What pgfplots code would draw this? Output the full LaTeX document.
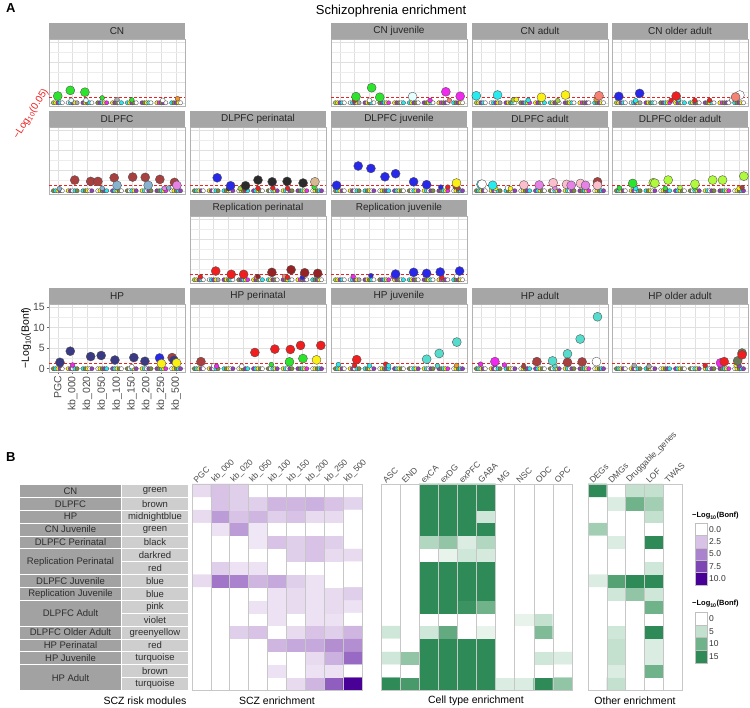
\documentclass[border=0pt]{standalone}
\usepackage{pgfplots}
\pgfplotsset{compat=1.18}
\usepackage{pgfplotstable}
\usepackage{fontspec}
\setmainfont{Liberation Sans}

\definecolor{cg}{RGB}{45,228,45}
\definecolor{cbr}{RGB}{168,64,64}
\definecolor{cmb}{RGB}{58,58,132}
\definecolor{cbl}{RGB}{40,40,235}
\definecolor{cbk}{RGB}{42,42,42}
\definecolor{cr}{RGB}{240,30,30}
\definecolor{cdr}{RGB}{150,35,35}
\definecolor{cpk}{RGB}{250,190,205}
\definecolor{cv}{RGB}{230,130,230}
\definecolor{cgy}{RGB}{175,250,60}
\definecolor{ctq}{RGB}{85,220,205}
\definecolor{cy}{RGB}{250,240,20}
\definecolor{cm}{RGB}{240,40,240}
\definecolor{cc}{RGB}{40,235,240}
\definecolor{clc}{RGB}{228,255,255}
\definecolor{csa}{RGB}{245,130,115}
\definecolor{ctn}{RGB}{215,185,145}
\definecolor{clb}{RGB}{135,178,208}
\definecolor{col}{RGB}{125,140,60}
\definecolor{cpu}{RGB}{150,60,190}
\definecolor{cgr}{RGB}{170,170,170}
\definecolor{cor}{RGB}{245,150,40}
\definecolor{cyg}{RGB}{165,205,60}
\definecolor{cdg}{RGB}{105,120,85}
\definecolor{stripgray}{RGB}{166,166,166}
\definecolor{tabdark}{RGB}{162,162,162}
\definecolor{tablight}{RGB}{206,206,206}
\definecolor{pl0}{RGB}{255,255,255}
\definecolor{pl1}{RGB}{216,195,230}
\definecolor{pl2}{RGB}{170,130,205}
\definecolor{pl3}{RGB}{125,70,180}
\definecolor{pl4}{RGB}{72,0,150}
\definecolor{gl0}{RGB}{255,255,255}
\definecolor{gl1}{RGB}{195,225,206}
\definecolor{gl2}{RGB}{112,178,138}
\definecolor{gl3}{RGB}{46,139,87}

\tikzset{mk/.style={draw=black!70, line width=0.35pt}}
\pgfplotsset{
  colormap={purp}{rgb255=(255,255,255) rgb255=(216,195,230) rgb255=(170,130,205) rgb255=(125,70,180) rgb255=(72,0,150)},
  colormap={grn}{rgb255=(255,255,255) rgb255=(195,225,206) rgb255=(112,178,138) rgb255=(46,139,87)},
  pts/.style={scatter, only marks, mark=*, point meta=explicit symbolic,
    scatter/classes={
      g={mk,fill=cg}, br={mk,fill=cbr}, mb={mk,fill=cmb}, bl={mk,fill=cbl}, bk={mk,fill=cbk},
      r={mk,fill=cr}, dr={mk,fill=cdr}, pk={mk,fill=cpk}, v={mk,fill=cv}, gy={mk,fill=cgy},
      tq={mk,fill=ctq}, y={mk,fill=cy}, m={mk,fill=cm}, c={mk,fill=cc}, lc={mk,fill=clc},
      sa={mk,fill=csa}, tn={mk,fill=ctn}, lb={mk,fill=clb}, w={mk,fill=white}, ol={mk,fill=col},
      pu={mk,fill=cpu}, gr={mk,fill=cgr}, or={mk,fill=cor}, yg={mk,fill=cyg}, dg={mk,fill=cdg}}},
  big/.style={pts, mark size=4.5pt},
  sml/.style={pts, mark size=2.4pt},
  zer/.style={pts, mark size=2.1pt},
  thr/.style={cr, line width=0.6pt, dash pattern=on 3pt off 2pt},
  pA/.style={scale only axis, width=136pt, height=67pt, anchor=north west,
    xmin=0.4, xmax=9.6, ymin=-0.8, ymax=15.7, clip=false,
    xtick={1,...,9}, ytick={0,5,10,15}, minor ytick={2.5,7.5,12.5},
    xticklabels={}, yticklabels={}, major tick length=0pt, minor tick length=0pt,
    grid=both, major grid style={black!12, line width=0.45pt}, minor grid style={black!7, line width=0.35pt},
    axis line style={black!30, line width=0.5pt},
    /pgf/number format/assume math mode=true},
  hm/.style={scale only axis, anchor=north west, height=206pt, ymin=-0.5, ymax=15.5,
    ytick=\empty, minor ytick={-0.5,0.5,...,15.5},
    xticklabel pos=upper, major tick length=0pt, minor tick length=0pt,
    xminorgrids=true, yminorgrids=true, minor grid style={black!22, line width=0.6pt},
    axis on top, axis line style={black!22, line width=0.6pt},
    xticklabel style={rotate=45, anchor=south west, font=\fontsize{8.5}{10}\selectfont, text=black!70, inner sep=1pt, xshift=-4pt, yshift=2pt},
    /pgf/number format/assume math mode=true},
}

\pgfplotstableread{
x y c
0.70 0 yg
0.85 0 y
1.00 0 pu
1.15 0 c
1.30 0 w
1.70 0 w
1.85 0 c
2.00 0 pu
2.15 0 y
2.30 0 gr
2.70 0 pu
2.85 0 y
3.00 0 ol
3.15 0 c
3.30 0 w
3.70 0 ol
3.85 0 pu
4.00 0 c
4.15 0 y
4.30 0 m
4.70 0 y
4.85 0 pu
5.00 0 ol
5.15 0 w
5.30 0 c
5.70 0 c
5.85 0 y
6.00 0 pu
6.15 0 ol
6.30 0 w
6.70 0 pu
6.85 0 ol
7.00 0 y
7.15 0 c
7.30 0 w
7.70 0 y
7.85 0 m
8.00 0 ol
8.15 0 pu
8.30 0 w
8.70 0 c
8.85 0 ol
9.00 0 pu
9.15 0 y
9.30 0 w
}\zA

\pgfplotstableread{
x y c
0.70 0 ol
0.85 0 c
1.00 0 y
1.15 0 pu
1.30 0 w
1.70 0 y
1.85 0 pu
2.00 0 w
2.15 0 c
2.30 0 ol
2.70 0 c
2.85 0 ol
3.00 0 y
3.15 0 w
3.30 0 pu
3.70 0 w
3.85 0 y
4.00 0 ol
4.15 0 pu
4.30 0 c
4.70 0 pu
4.85 0 c
5.00 0 y
5.15 0 ol
5.30 0 w
5.70 0 ol
5.85 0 w
6.00 0 c
6.15 0 y
6.30 0 pu
6.70 0 y
6.85 0 c
7.00 0 w
7.15 0 pu
7.30 0 ol
7.70 0 pu
7.85 0 ol
8.00 0 c
8.15 0 y
8.30 0 m
8.70 0 w
8.85 0 y
9.00 0 ol
9.15 0 c
9.30 0 pu
}\zB

\newcommand{\strip}[3]{\node[fill=stripgray, minimum width=136pt, minimum height=16pt, inner sep=0pt, outer sep=0pt, anchor=south west, font=\fontsize{10}{11}\selectfont, text=black!85] at (#1pt,-#2pt) {#3};}

\begin{document}
\begin{tikzpicture}[font=\fontsize{10}{12}\selectfont]
\path[use as bounding box] (0pt,0pt) rectangle (750pt,-708pt);
\node[anchor=north west, font=\bfseries\fontsize{13}{14}\selectfont, inner sep=0pt] at (6pt,-3pt) {A};
\node[font=\fontsize{13}{15}\selectfont] at (391pt,-11pt) {Schizophrenia enrichment};
\node[rotate=58, text=cr, font=\fontsize{10}{12}\selectfont] at (31pt,-114pt) {−Log\textsubscript{10}(0.05)};

% ---------- Row 1 ----------
\begin{axis}[pA, at={(49pt,-39pt)}]
\addplot[thr] coordinates {(0.4,1.3) (9.6,1.3)};
\addplot[zer] table[meta=c]{\zA};
\addplot[sml] table[meta=c,row sep=\\]{x y c\\ 1.9 0.6 lc\\ 2.9 0.6 lc\\ 4.0 1.2 g\\ 5.0 0.8 gr\\ 6.0 0.7 g\\ 8.1 0.6 w\\ 9.1 1.0 or\\};
\addplot[big] table[meta=c,row sep=\\]{x y c\\ 0.99 1.65 g\\ 1.84 3.05 g\\ 2.83 2.6 g\\};
\end{axis}
\strip{49}{39}{CN}

\begin{axis}[pA, at={(331pt,-39pt)}]
\addplot[thr] coordinates {(0.4,1.3) (9.6,1.3)};
\addplot[zer] table[meta=c]{\zA};
\addplot[sml] table[meta=c,row sep=\\]{x y c\\ 2.0 0.6 r\\ 3.0 0.6 w\\ 7.1 0.6 m\\ 8.4 0.6 sa\\};
\addplot[big] table[meta=c,row sep=\\]{x y c\\ 2.09 1.5 g\\ 3.15 3.7 g\\ 3.7 1.35 g\\ 5.92 1.5 lc\\ 8.17 2.7 m\\ 9.14 1.6 m\\};
\end{axis}
\strip{331}{39}{CN juvenile}

\begin{axis}[pA, at={(472pt,-39pt)}]
\addplot[thr] coordinates {(0.4,1.3) (9.6,1.3)};
\addplot[zer] table[meta=c]{\zA};
\addplot[sml] table[meta=c,row sep=\\]{x y c\\ 3.2 0.7 yg\\ 3.4 0.8 y\\ 4.2 0.6 c\\ 6.2 0.5 yg\\ 8.8 0.8 or\\};
\addplot[big] table[meta=c,row sep=\\]{x y c\\ 0.69 1.72 c\\ 2.13 1.9 c\\ 5.1 1.33 y\\ 6.72 1.9 y\\ 8.99 1.72 sa\\};
\end{axis}
\strip{472}{39}{CN adult}

\begin{axis}[pA, at={(612pt,-39pt)}]
\addplot[thr] coordinates {(0.4,1.3) (9.6,1.3)};
\addplot[zer] table[meta=c]{\zA};
\addplot[sml] table[meta=c,row sep=\\]{x y c\\ 2.0 0.5 c\\ 4.4 0.6 r\\ 4.9 0.8 c\\ 6.0 0.6 r\\ 7.0 0.6 r\\ 8.5 0.7 w\\};
\addplot[big] table[meta=c,row sep=\\]{x y c\\ 0.86 1.57 bl\\ 2.27 2.3 bl\\ 4.74 1.65 r\\ 9.05 1.9 w\\ 8.76 1.4 sa\\};
\end{axis}
\strip{612}{39}{CN older adult}

% ---------- Row 2 ----------
\begin{axis}[pA, at={(49pt,-127pt)}]
\addplot[thr] coordinates {(0.4,1.3) (9.6,1.3)};
\addplot[zer] table[meta=c]{\zB};
\addplot[sml] table[meta=c,row sep=\\]{x y c\\ 1.1 0.5 lb\\ 4.0 0.6 lb\\ 5.0 0.7 lb\\ 8.2 0.6 v\\ 8.5 0.7 lb\\};
\addplot[big] table[meta=c,row sep=\\]{x y c\\ 2.14 2.63 br\\ 3.22 2.3 br\\ 3.71 2.3 br\\ 4.81 3.2 br\\ 6.06 3.37 br\\ 6.91 3.3 br\\ 7.9 2.8 br\\ 8.89 2.06 br\\ 5.0 1.33 lb\\ 7.11 1.33 lb\\ 9.05 1.33 v\\};
\end{axis}
\strip{49}{127}{DLPFC}

\begin{axis}[pA, at={(190pt,-127pt)}]
\addplot[thr] coordinates {(0.4,1.3) (9.6,1.3)};
\addplot[zer] table[meta=c]{\zB};
\addplot[sml] table[meta=c,row sep=\\]{x y c\\ 3.0 0.5 bk\\ 3.8 0.6 yg\\ 4.1 0.5 r\\ 5.0 0.6 r\\ 6.0 0.7 r\\ 7.0 0.6 r\\ 8.8 0.9 g\\};
\addplot[big] table[meta=c,row sep=\\]{x y c\\ 2.24 3.2 bl\\ 3.15 1.23 bl\\ 4.16 1.23 bk\\ 5.0 2.63 bk\\ 5.96 2.2 bk\\ 6.97 2.3 bk\\ 8.05 1.9 bk\\ 8.85 2.2 tn\\};
\end{axis}
\strip{190}{127}{DLPFC perinatal}

\begin{axis}[pA, at={(331pt,-127pt)}]
\addplot[thr] coordinates {(0.4,1.3) (9.6,1.3)};
\addplot[zer] table[meta=c]{\zB};
\addplot[sml] table[meta=c,row sep=\\]{x y c\\ 7.83 0.9 bl\\ 8.3 0.9 r\\ 8.8 1.0 br\\ 9.0 0.6 br\\};
\addplot[big] table[meta=c,row sep=\\]{x y c\\ 0.78 1.33 bl\\ 2.24 6.1 bl\\ 3.1 5.5 bl\\ 4.05 3.44 bl\\ 4.77 4.2 bl\\ 5.99 2.2 bl\\ 6.87 1.5 bl\\ 8.89 1.9 y\\};
\end{axis}
\strip{331}{127}{DLPFC juvenile}

\begin{axis}[pA, at={(472pt,-127pt)}]
\addplot[thr] coordinates {(0.4,1.3) (9.6,1.3)};
\addplot[zer] table[meta=c]{\zB};
\addplot[sml] table[meta=c,row sep=\\]{x y c\\ 2.0 0.6 y\\ 2.8 0.7 w\\ 3.0 0.5 y\\ 6.0 0.7 v\\};
\addplot[big] table[meta=c,row sep=\\]{x y c\\ 1.01 1.57 c\\ 1.08 1.62 w\\ 1.8 1.33 c\\ 3.91 1.4 pk\\ 4.95 1.4 v\\ 5.89 1.97 pk\\ 6.8 1.57 pk\\ 7.11 1.33 v\\ 7.74 1.8 pk\\ 8.08 1.33 v\\ 8.89 2.2 br\\ 8.89 1.33 pk\\};
\end{axis}
\strip{472}{127}{DLPFC adult}

\begin{axis}[pA, at={(612pt,-127pt)}]
\addplot[thr] coordinates {(0.4,1.3) (9.6,1.3)};
\addplot[zer] table[meta=c]{\zB};
\addplot[sml] table[meta=c,row sep=\\]{x y c\\ 0.9 0.7 g\\ 2.0 0.6 c\\ 4.0 0.6 g\\ 5.0 0.8 gy\\ 6.0 0.7 g\\ 9.0 0.6 y\\ 9.2 0.8 br\\};
\addplot[big] table[meta=c,row sep=\\]{x y c\\ 1.8 1.8 g\\ 3.19 1.97 gy\\ 3.3 1.85 gy\\ 4.2 2.63 gy\\ 6.01 1.65 gy\\ 7.21 2.63 gy\\ 7.88 2.63 gy\\ 9.32 3.6 gy\\};
\end{axis}
\strip{612}{127}{DLPFC older adult}

% ---------- Row 3 ----------
\begin{axis}[pA, at={(190pt,-216pt)}]
\addplot[thr] coordinates {(0.4,1.3) (9.6,1.3)};
\addplot[zer] table[meta=c]{\zA};
\addplot[sml] table[meta=c,row sep=\\]{x y c\\ 1.1 0.7 r\\ 4.9 0.6 sa\\ 5.0 0.8 dr\\ 6.8 0.8 sa\\ 7.0 0.6 r\\ 8.0 0.6 bl\\ 9.0 0.8 c\\};
\addplot[big] table[meta=c,row sep=\\]{x y c\\ 2.14 2.14 r\\ 3.19 1.33 r\\ 4.03 1.33 r\\ 5.94 1.82 dr\\ 7.24 2.46 dr\\ 8.16 1.72 dr\\ 9.04 1.57 dr\\};
\end{axis}
\strip{190}{216}{Replication perinatal}

\begin{axis}[pA, at={(331pt,-216pt)}]
\addplot[thr] coordinates {(0.4,1.3) (9.6,1.3)};
\addplot[zer] table[meta=c]{\zA};
\addplot[sml] table[meta=c,row sep=\\]{x y c\\ 1.9 0.8 m\\ 3.1 1.0 bl\\ 4.6 0.8 m\\ 7.9 0.6 r\\ 8.9 0.9 w\\};
\addplot[big] table[meta=c,row sep=\\]{x y c\\ 4.77 1.4 bl\\ 5.99 1.82 bl\\ 6.87 1.57 bl\\ 7.79 1.9 bl\\ 9.1 2.14 bl\\};
\end{axis}
\strip{331}{216}{Replication juvenile}

% ---------- Row 4 ----------
\begin{axis}[pA, at={(49pt,-304pt)}, height=68pt,
  yticklabels={0,5,10,15},
  xticklabels={PGC,kb\_000,kb\_020,kb\_050,kb\_100,kb\_150,kb\_200,kb\_250,kb\_500},
  major tick length=2.5pt, tick pos=left, tick align=outside, major tick style={black!60, line width=0.5pt},
  xticklabel style={rotate=90, anchor=east, font=\fontsize{10.5}{12}\selectfont, text=black!70, inner sep=1.5pt},
  yticklabel style={font=\fontsize{10.5}{12}\selectfont, text=black!70, inner sep=1.5pt},
  ylabel={−Log\textsubscript{10}(Bonf)}, ylabel style={font=\fontsize{10.5}{12}\selectfont, yshift=-3pt}]
\addplot[thr] coordinates {(0.4,1.3) (9.6,1.3)};
\addplot[zer] table[meta=c]{\zB};
\addplot[sml] table[meta=c,row sep=\\]{x y c\\ 1.15 0.8 pu\\ 2.0 0.9 m\\ 6.0 0.5 w\\ 7.9 1.0 yg\\};
\addplot[big] table[meta=c,row sep=\\]{x y c\\ 1.14 1.55 mb\\ 1.84 4.25 mb\\ 3.22 2.95 mb\\ 3.93 3.2 mb\\ 4.86 2.1 mb\\ 6.14 2.7 mb\\ 6.89 1.8 mb\\ 7.88 2.6 bl\\ 8.01 1.23 y\\ 8.73 2.7 br\\ 8.85 2.05 mb\\ 9.03 1.4 y\\};
\end{axis}
\strip{49}{304}{HP}

\begin{axis}[pA, at={(190pt,-304pt)}, height=68pt]
\addplot[thr] coordinates {(0.4,1.3) (9.6,1.3)};
\addplot[zer] table[meta=c]{\zB};
\addplot[sml] table[meta=c,row sep=\\]{x y c\\ 2.0 0.7 w\\ 2.2 0.6 m\\ 3.9 0.6 w\\ 5.9 1.0 g\\};
\addplot[big] table[meta=c,row sep=\\]{x y c\\ 1.14 1.72 br\\ 4.79 3.93 r\\ 6.14 4.75 r\\ 7.19 4.67 r\\ 7.88 5.65 r\\ 9.25 5.65 r\\ 7.13 1.65 g\\ 8.04 2.46 g\\ 8.96 2.14 y\\};
\end{axis}
\strip{190}{304}{HP perinatal}

\begin{axis}[pA, at={(331pt,-304pt)}, height=68pt]
\addplot[thr] coordinates {(0.4,1.3) (9.6,1.3)};
\addplot[zer] table[meta=c]{\zB};
\addplot[sml] table[meta=c,row sep=\\]{x y c\\ 0.9 1.0 c\\ 2.0 0.8 r\\ 3.0 0.7 c\\ 4.1 1.1 r\\ 4.3 0.7 c\\ 7.6 0.7 tq\\ 8.9 0.8 or\\};
\addplot[big] table[meta=c,row sep=\\]{x y c\\ 2.14 2.2 r\\ 6.87 2.3 tq\\ 7.72 3.7 tq\\ 8.91 6.46 tq\\};
\end{axis}
\strip{331}{304}{HP juvenile}

\begin{axis}[pA, at={(472pt,-304pt)}, height=68pt]
\addplot[thr] coordinates {(0.4,1.3) (9.6,1.3)};
\addplot[zer] table[meta=c]{\zB};
\addplot[sml] table[meta=c,row sep=\\]{x y c\\ 0.98 1.1 m\\ 1.95 1.0 pu\\ 2.6 0.9 m\\ 3.9 0.6 br\\ 6.0 0.7 tq\\};
\addplot[big] table[meta=c,row sep=\\]{x y c\\ 1.95 1.72 m\\ 4.79 1.72 br\\ 5.85 1.89 tq\\ 6.86 3.6 tq\\ 6.86 1.55 br\\ 7.72 7.2 tq\\ 7.85 1.65 br\\ 8.89 12.6 tq\\ 8.82 1.72 w\\};
\end{axis}
\strip{472}{304}{HP adult}

\begin{axis}[pA, at={(612pt,-304pt)}, height=68pt]
\addplot[thr] coordinates {(0.4,1.3) (9.6,1.3)};
\addplot[zer] table[meta=c]{\zB};
\addplot[sml] table[meta=c,row sep=\\]{x y c\\ 1.9 0.8 gr\\ 2.9 0.6 gr\\ 6.7 0.8 r\\ 8.8 0.8 y\\ 9.0 0.7 pu\\};
\addplot[big] table[meta=c,row sep=\\]{x y c\\ 9.2 3.8 dg\\ 7.74 1.4 m\\ 7.99 1.72 r\\ 8.9 1.89 dg\\ 9.2 3.37 r\\};
\end{axis}
\strip{612}{304}{HP older adult}

% ---------- Panel B ----------
\node[anchor=north west, font=\bfseries\fontsize{13}{14}\selectfont, inner sep=0pt] at (6pt,-452pt) {B};

\foreach \a/\b/\t in {0/1/CN,1/1/DLPFC,2/1/HP,3/1/CN Juvenile,4/1/DLPFC Perinatal,5/2/Replication Perinatal,7/1/DLPFC Juvenile,8/1/Replication Juvenile,9/2/DLPFC Adult,11/1/DLPFC Older Adult,12/1/HP Perinatal,13/1/HP Juvenile,14/2/HP Adult}
  \node[fill=tabdark, draw=white, line width=1pt, minimum width=102pt, minimum height=\b*12.875pt, inner sep=0pt, anchor=north west, text=black!82, font=\fontsize{9.5}{11}\selectfont] at (19pt,{-484pt-\a*12.875pt}) {\t};
\foreach \a/\t in {0/green,1/brown,2/midnightblue,3/green,4/black,5/darkred,6/red,7/blue,8/blue,9/pink,10/violet,11/greenyellow,12/red,13/turquoise,14/brown,15/turquoise}
  \node[fill=tablight, draw=white, line width=1pt, minimum width=67pt, minimum height=12.875pt, inner sep=0pt, anchor=north west, text=black!82, font=\fontsize{9.5}{11}\selectfont] at (121pt,{-484pt-\a*12.875pt}) {\t};

\begin{axis}[hm, at={(192pt,-484pt)}, width=170pt, xmin=-0.5, xmax=8.5,
  colormap name=purp, point meta min=0, point meta max=10,
  xtick={0,...,8}, minor xtick={-0.5,0.5,...,8.5},
  xticklabels={PGC,kb\_000,kb\_020,kb\_050,kb\_100,kb\_150,kb\_200,kb\_250,kb\_500}]
\addplot[matrix plot*, mesh/cols=9, point meta=explicit] table[meta=v,row sep=\\]{x y v\\
0 0 0\\ 1 0 0\\ 2 0 0\\ 3 0 0\\ 4 0 0\\ 5 0 1.5\\ 6 0 3\\ 7 0 6.5\\ 8 0 10\\
0 1 0\\ 1 1 0\\ 2 1 0\\ 3 1 0\\ 4 1 1.2\\ 5 1 0\\ 6 1 1.2\\ 7 1 1.2\\ 8 1 0\\
0 2 0\\ 1 2 0\\ 2 2 0\\ 3 2 0\\ 4 2 0\\ 5 2 0\\ 6 2 1.5\\ 7 2 3.2\\ 8 2 6\\
0 3 0\\ 1 3 0\\ 2 3 0\\ 3 3 0\\ 4 3 3\\ 5 3 3.5\\ 6 3 3.5\\ 7 3 4.5\\ 8 3 4.5\\
0 4 0\\ 1 4 0\\ 2 4 2\\ 3 4 2.5\\ 4 4 0\\ 5 4 1.5\\ 6 4 2.5\\ 7 4 2\\ 8 4 3\\
0 5 0\\ 1 5 0\\ 2 5 0\\ 3 5 0\\ 4 5 1.2\\ 5 5 0\\ 6 5 1.2\\ 7 5 1.2\\ 8 5 0\\
0 6 0\\ 1 6 0\\ 2 6 0\\ 3 6 1.2\\ 4 6 1.2\\ 5 6 1.5\\ 6 6 1.2\\ 7 6 1.5\\ 8 6 1.2\\
0 7 0\\ 1 7 0\\ 2 7 0\\ 3 7 0\\ 4 7 1.2\\ 5 7 1.5\\ 6 7 1.2\\ 7 7 1.5\\ 8 7 2\\
0 8 1.5\\ 1 8 5.5\\ 2 8 5\\ 3 8 3\\ 4 8 3.5\\ 5 8 2\\ 6 8 1.2\\ 7 8 0\\ 8 8 0\\
0 9 0\\ 1 9 2\\ 2 9 1.2\\ 3 9 1.2\\ 4 9 0\\ 5 9 0\\ 6 9 0\\ 7 9 0\\ 8 9 0\\
0 10 0\\ 1 10 0\\ 2 10 0\\ 3 10 0\\ 4 10 0\\ 5 10 2\\ 6 10 2.5\\ 7 10 1.5\\ 8 10 1.5\\
0 11 0\\ 1 11 0\\ 2 11 0\\ 3 11 1\\ 4 11 2.5\\ 5 11 2\\ 6 11 2.5\\ 7 11 2\\ 8 11 0\\
0 12 0\\ 1 12 1.2\\ 2 12 4\\ 3 12 1\\ 4 12 0\\ 5 12 0\\ 6 12 0\\ 7 12 0\\ 8 12 0\\
0 13 1.5\\ 1 13 4\\ 2 13 2.5\\ 3 13 3\\ 4 13 2\\ 5 13 2.5\\ 6 13 1.5\\ 7 13 1.5\\ 8 13 0\\
0 14 0\\ 1 14 2.5\\ 2 14 2\\ 3 14 2\\ 4 14 3\\ 5 14 3\\ 6 14 3.2\\ 7 14 2.5\\ 8 14 1.8\\
0 15 1.5\\ 1 15 2.5\\ 2 15 2\\ 3 15 0\\ 4 15 0\\ 5 15 0\\ 6 15 0\\ 7 15 0\\ 8 15 0\\
};
\end{axis}

\begin{axis}[hm, at={(381pt,-484pt)}, width=191pt, xmin=-0.5, xmax=9.5,
  colormap name=grn, point meta min=0, point meta max=15,
  xtick={0,...,9}, minor xtick={-0.5,0.5,...,9.5},
  xticklabels={ASC,END,exCA,exDG,exPFC,GABA,MG,NSC,ODC,OPC}]
\addplot[matrix plot*, mesh/cols=10, point meta=explicit] table[meta=v,row sep=\\]{x y v\\
0 0 15\\ 1 0 13\\ 2 0 15\\ 3 0 15\\ 4 0 15\\ 5 0 15\\ 6 0 3\\ 7 0 3\\ 8 0 15\\ 9 0 8\\
0 1 0\\ 1 1 0\\ 2 1 15\\ 3 1 15\\ 4 1 15\\ 5 1 15\\ 6 1 0\\ 7 1 0\\ 8 1 0\\ 9 1 0\\
0 2 4\\ 1 2 8\\ 2 2 15\\ 3 2 15\\ 4 2 15\\ 5 2 15\\ 6 2 0\\ 7 2 0\\ 8 2 4\\ 9 2 3\\
0 3 0\\ 1 3 0\\ 2 3 15\\ 3 3 15\\ 4 3 15\\ 5 3 15\\ 6 3 0\\ 7 3 0\\ 8 3 0\\ 9 3 0\\
0 4 4\\ 1 4 0\\ 2 4 4\\ 3 4 11\\ 4 4 0\\ 5 4 2\\ 6 4 0\\ 7 4 0\\ 8 4 9\\ 9 4 0\\
0 5 0\\ 1 5 0\\ 2 5 0\\ 3 5 0\\ 4 5 0\\ 5 5 0\\ 6 5 0\\ 7 5 2\\ 8 5 5\\ 9 5 0\\
0 6 0\\ 1 6 0\\ 2 6 15\\ 3 6 15\\ 4 6 14\\ 5 6 10\\ 6 6 0\\ 7 6 0\\ 8 6 0\\ 9 6 0\\
0 7 0\\ 1 7 0\\ 2 7 15\\ 3 7 15\\ 4 7 15\\ 5 7 15\\ 6 7 0\\ 7 7 0\\ 8 7 0\\ 9 7 0\\
0 8 0\\ 1 8 0\\ 2 8 15\\ 3 8 15\\ 4 8 15\\ 5 8 15\\ 6 8 0\\ 7 8 0\\ 8 8 0\\ 9 8 0\\
0 9 0\\ 1 9 0\\ 2 9 15\\ 3 9 15\\ 4 9 15\\ 5 9 15\\ 6 9 0\\ 7 9 0\\ 8 9 0\\ 9 9 0\\
0 10 0\\ 1 10 0\\ 2 10 0\\ 3 10 2\\ 4 10 4\\ 5 10 3.5\\ 6 10 0\\ 7 10 0\\ 8 10 0\\ 9 10 0\\
0 11 0\\ 1 11 0\\ 2 11 6\\ 3 11 8\\ 4 11 3\\ 5 11 6\\ 6 11 0\\ 7 11 0\\ 8 11 0\\ 9 11 0\\
0 12 0\\ 1 12 0\\ 2 12 15\\ 3 12 15\\ 4 12 15\\ 5 12 15\\ 6 12 0\\ 7 12 0\\ 8 12 0\\ 9 12 0\\
0 13 0\\ 1 13 0\\ 2 13 15\\ 3 13 15\\ 4 13 15\\ 5 13 4\\ 6 13 0\\ 7 13 0\\ 8 13 0\\ 9 13 0\\
0 14 0\\ 1 14 0\\ 2 14 15\\ 3 14 15\\ 4 14 15\\ 5 14 15\\ 6 14 0\\ 7 14 0\\ 8 14 0\\ 9 14 0\\
0 15 0\\ 1 15 0\\ 2 15 15\\ 3 15 15\\ 4 15 15\\ 5 15 15\\ 6 15 0\\ 7 15 0\\ 8 15 0\\ 9 15 0\\
};
\end{axis}

\begin{axis}[hm, at={(588pt,-484pt)}, width=94pt, xmin=-0.5, xmax=4.5,
  colormap name=grn, point meta min=0, point meta max=15,
  xtick={0,...,4}, minor xtick={-0.5,0.5,...,4.5},
  xticklabels={DEGs,DMGs,Druggable\_genes,LOF,TWAS}]
\addplot[matrix plot*, mesh/cols=5, point meta=explicit] table[meta=v,row sep=\\]{x y v\\
0 0 0\\ 1 0 5\\ 2 0 0\\ 3 0 0\\ 4 0 0\\
0 1 0\\ 1 1 3\\ 2 1 0\\ 3 1 10\\ 4 1 0\\
0 2 0\\ 1 2 5\\ 2 2 0\\ 3 2 3\\ 4 2 0\\
0 3 0\\ 1 3 5\\ 2 3 0\\ 3 3 3\\ 4 3 0\\
0 4 0\\ 1 4 4\\ 2 4 0\\ 3 4 15\\ 4 4 0\\
0 5 0\\ 1 5 0\\ 2 5 0\\ 3 5 0\\ 4 5 0\\
0 6 0\\ 1 6 0\\ 2 6 0\\ 3 6 10\\ 4 6 0\\
0 7 0\\ 1 7 4\\ 2 7 8\\ 3 7 4\\ 4 7 0\\
0 8 3\\ 1 8 12\\ 2 8 15\\ 3 8 15\\ 4 8 0\\
0 9 0\\ 1 9 0\\ 2 9 0\\ 3 9 4\\ 4 9 0\\
0 10 0\\ 1 10 0\\ 2 10 0\\ 3 10 0\\ 4 10 0\\
0 11 0\\ 1 11 3\\ 2 11 0\\ 3 11 15\\ 4 11 0\\
0 12 7\\ 1 12 0\\ 2 12 0\\ 3 12 0\\ 4 12 0\\
0 13 0\\ 1 13 0\\ 2 13 0\\ 3 13 5\\ 4 13 0\\
0 14 0\\ 1 14 3\\ 2 14 10\\ 3 14 7\\ 4 14 0\\
0 15 15\\ 1 15 0\\ 2 15 5\\ 3 15 5\\ 4 15 0\\
};
\end{axis}

% legends
\node[anchor=west, font=\bfseries\fontsize{7.5}{9}\selectfont, inner sep=0pt] at (692pt,-516pt) {−Log\textsubscript{10}(Bonf)};
\foreach \i/\c/\l in {0/pl0/0.0,1/pl1/2.5,2/pl2/5.0,3/pl3/7.5,4/pl4/10.0}{
  \fill[\c, draw=black!25, line width=0.4pt] (695pt,{-523pt-\i*12.4pt}) rectangle (707pt,{-535.4pt-\i*12.4pt});
  \node[anchor=west, font=\fontsize{8.5}{10}\selectfont, inner sep=0pt, text=black!80] at (709pt,{-529.2pt-\i*12.4pt}) {\l};
}
\node[anchor=west, font=\bfseries\fontsize{7.5}{9}\selectfont, inner sep=0pt] at (692pt,-604pt) {−Log\textsubscript{10}(Bonf)};
\foreach \i/\c/\l in {0/gl0/0,1/gl1/5,2/gl2/10,3/gl3/15}{
  \fill[\c, draw=black!25, line width=0.4pt] (695pt,{-612pt-\i*12.75pt}) rectangle (707pt,{-624.75pt-\i*12.75pt});
  \node[anchor=west, font=\fontsize{8.5}{10}\selectfont, inner sep=0pt, text=black!80] at (709pt,{-618.4pt-\i*12.75pt}) {\l};
}

% captions
\node[font=\fontsize{10.5}{12}\selectfont] at (145pt,-701pt) {SCZ risk modules};
\node[font=\fontsize{10.5}{12}\selectfont] at (277pt,-701pt) {SCZ enrichment};
\node[font=\fontsize{10.5}{12}\selectfont] at (476pt,-701pt) {Cell type enrichment};
\node[font=\fontsize{10.5}{12}\selectfont] at (635pt,-701pt) {Other enrichment};
\end{tikzpicture}
\end{document}
